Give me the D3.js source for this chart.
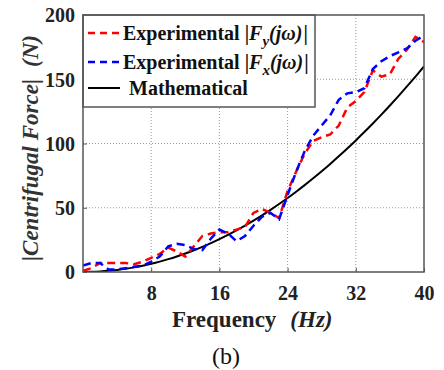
<!DOCTYPE html>
<html>
<head>
<meta charset="utf-8">
<script src="https://cdn.jsdelivr.net/npm/d3@7/dist/d3.min.js"></script>
<style>
  body { margin: 0; background: #fff; }
  svg { display: block; }
</style>
</head>
<body>
<div id="chart"></div>
<script>
// frequency samples (Hz)
const freq = [0, 1, 2, 3, 4, 5, 6, 7, 8, 9, 10, 11, 12, 13, 14, 15, 16, 17, 18, 19, 20,
              21, 22, 23, 24, 25, 26, 27, 28, 29, 30, 31, 32, 33, 34, 35, 36, 37, 38, 39, 40];

// Experimental |Fy(jw)| (red)
const forceY = [1, 3, 7, 7, 7, 7, 6, 8, 11, 14, 19, 16, 12, 20, 28, 30, 31, 31, 33, 35, 46,
                49, 46, 42, 63, 78, 92, 102, 105, 107, 114, 128, 133, 140, 157, 152, 154, 166, 173, 183, 179];

// Experimental |Fx(jw)| (blue)
const forceX = [5, 7, 7, 2, 2, 3, 4, 5, 8, 12, 20, 22, 21, 18, 17, 26, 33, 30, 24, 28, 36,
                43, 46, 41, 60, 78, 94, 106, 114, 122, 134, 139, 140, 143, 158, 164, 168, 171, 174, 180, 184];

// Mathematical model
const forceMath = [0, 0.1, 0.4, 0.9, 1.6, 2.5, 3.6, 4.9, 6.4, 8.1, 10, 12.1, 14.4, 16.9, 19.6, 22.5, 25.6, 28.9, 32.4, 36.1, 40,
                   44.1, 48.4, 52.9, 57.6, 62.5, 67.6, 72.9, 78.4, 84.1, 90, 96.1, 102.4, 108.9, 115.6, 122.5, 129.6, 136.9, 144.4, 152.1, 160];

const xTicks = [8, 16, 24, 32, 40];
const yTicks = [0, 50, 100, 150, 200];

const W = 444, H = 370;
const margin = { top: 15, right: 20, bottom: 98, left: 83 };
const iw = W - margin.left - margin.right;
const ih = H - margin.top - margin.bottom;

const svg = d3.select('#chart').append('svg')
    .attr('width', W)
    .attr('height', H)
    .style('font-family', '"Liberation Serif", "Times New Roman", serif');

const g = svg.append('g').attr('transform', `translate(${margin.left},${margin.top})`);

const x = d3.scaleLinear().domain([0, 40]).range([0, iw]);
const y = d3.scaleLinear().domain([0, 200]).range([ih, 0]);

// grid
g.append('g').selectAll('line.vgrid')
    .data(xTicks.filter(d => d < 40))
    .enter().append('line')
    .attr('x1', d => x(d)).attr('x2', d => x(d))
    .attr('y1', 0).attr('y2', ih)
    .attr('stroke', '#999').attr('stroke-width', 1)
    .attr('stroke-dasharray', '1,2');

g.append('g').selectAll('line.hgrid')
    .data(yTicks.filter(d => d > 0 && d < 200))
    .enter().append('line')
    .attr('x1', 0).attr('x2', iw)
    .attr('y1', d => y(d)).attr('y2', d => y(d))
    .attr('stroke', '#999').attr('stroke-width', 1)
    .attr('stroke-dasharray', '1,2');

// axes
const xAxis = g.append('g')
    .attr('transform', `translate(0,${ih})`)
    .call(d3.axisBottom(x).tickValues(xTicks).tickSize(-4).tickPadding(14));
const yAxis = g.append('g')
    .call(d3.axisLeft(y).tickValues(yTicks).tickSize(-4).tickPadding(8));

[xAxis, yAxis].forEach(a => {
    a.select('.domain').remove();
    a.selectAll('line').attr('stroke', '#555');
    a.selectAll('text')
        .attr('fill', '#222')
        .style('font-family', '"Liberation Serif", serif')
        .style('font-weight', 'bold')
        .style('font-size', '20px');
});
yAxis.selectAll('text').attr('dy', '0.34em');

// lines
svg.append('defs').append('clipPath').attr('id', 'clip')
    .append('rect').attr('width', iw).attr('height', ih);

const plot = g.append('g').attr('clip-path', 'url(#clip)');

const line = vals => d3.line()
    .x((d, i) => x(freq[i]))
    .y(d => y(d))(vals);

plot.append('path')
    .attr('d', d3.line().curve(d3.curveMonotoneX)
        .x((d, i) => x(freq[i])).y(d => y(d))(forceMath))
    .attr('fill', 'none').attr('stroke', '#000').attr('stroke-width', 2);

plot.append('path')
    .attr('d', line(forceY))
    .attr('fill', 'none').attr('stroke', '#ff0000').attr('stroke-width', 2.5)
    .attr('stroke-dasharray', '8,5');

plot.append('path')
    .attr('d', line(forceX))
    .attr('fill', 'none').attr('stroke', '#0000ff').attr('stroke-width', 2.5)
    .attr('stroke-dasharray', '8,5');

// legend
const leg = g.append('g');
leg.append('rect')
    .attr('x', 0).attr('y', 0).attr('width', 232).attr('height', 92)
    .attr('fill', '#fff').attr('stroke', '#555').attr('stroke-width', 1.5);

const entries = [
    { color: '#ff0000', dash: '7,5', sub: 'y', cy: 18 },
    { color: '#0000ff', dash: '7,5', sub: 'x', cy: 47 },
    { color: '#000', dash: null, sub: null, cy: 73 }
];

entries.forEach(e => {
    leg.append('line')
        .attr('x1', 5).attr('x2', 37)
        .attr('y1', e.cy).attr('y2', e.cy)
        .attr('stroke', e.color).attr('stroke-width', e.dash ? 2.5 : 2)
        .attr('stroke-dasharray', e.dash);
    const t = leg.append('text')
        .attr('x', e.sub ? 40 : 46).attr('y', e.cy + 7)
        .style('font-size', '20px').style('font-weight', 'bold').attr('fill', '#111');
    if (e.sub) {
        t.append('tspan').text('Experimental');
        t.append('tspan').attr('dx', 5).text('|');
        t.append('tspan').style('font-style', 'italic').text('F');
        t.append('tspan').style('font-style', 'italic').style('font-size', '15px')
            .attr('dy', 6).text(e.sub);
        t.append('tspan').style('font-style', 'italic').attr('dy', -6).text('(jω)');
        t.append('tspan').attr('dx', 1).text('|');
    } else {
        t.text('Mathematical');
    }
});

// frame
g.append('rect')
    .attr('width', iw).attr('height', ih)
    .attr('fill', 'none').attr('stroke', '#555').attr('stroke-width', 1.5);

// axis titles
const xt = svg.append('text')
    .attr('x', 172).attr('y', 327)
    .style('font-size', '23px').style('font-weight', 'bold').attr('fill', '#222');
xt.append('tspan').text('Frequency');
xt.append('tspan').attr('dx', 14).style('font-style', 'italic').text('(Hz)');

const yt = svg.append('text')
    .attr('transform', 'translate(38,261) rotate(-90)')
    .style('font-size', '23px').style('font-style', 'italic').style('font-weight', 'bold')
    .attr('fill', '#333');
yt.append('tspan').text('|Centrifugal Force|');
yt.append('tspan').attr('dx', 12).text('(N)');

svg.append('text')
    .attr('x', 226).attr('y', 364)
    .attr('text-anchor', 'middle')
    .style('font-size', '24px').attr('fill', '#111')
    .text('(b)');
</script>
</body>
</html>
